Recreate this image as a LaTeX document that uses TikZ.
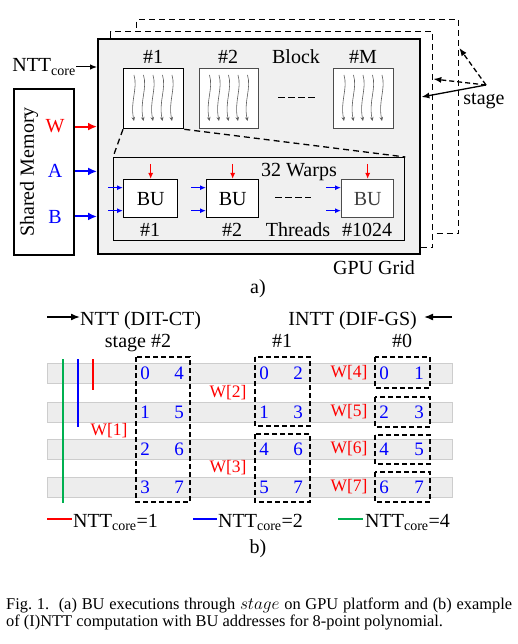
\documentclass[tikz,border=0pt]{standalone}
\usepackage{fontspec}
\setmainfont{Liberation Serif}
\usetikzlibrary{arrows.meta}

\definecolor{gridfill}{RGB}{240,240,240}
\definecolor{rowfill}{RGB}{237,237,237}
\definecolor{rowedge}{RGB}{205,205,205}
\definecolor{coregreen}{RGB}{0,176,80}
\definecolor{threadgray}{RGB}{95,95,95}

\begin{document}
\begin{tikzpicture}[x=1pt, y=-1pt, >=Latex,
  txt/.style={font=\fontsize{20}{22}\selectfont, inner sep=0pt},
  box/.style={draw, inner sep=0pt, anchor=north west},
  copybox/.style={box, fill=white, line width=1.3pt, dash pattern=on 6pt off 4pt},
  blockbox/.style={box, fill=white, line width=1.3pt},
  bubox/.style={box, fill=white, line width=1.3pt, font=\fontsize{20}{22}\selectfont},
  dashline/.style={line width=1.3pt, dash pattern=on 6pt off 4pt},
  fewdash/.style={line width=1pt, dash pattern=on 7pt off 3pt},
  thread/.style={threadgray, line width=0.6pt, -{Stealth[length=4pt, width=3.5pt]}},
  inw/.style={red, line width=1.2pt, -{Latex[length=6pt, width=5pt]}},
  inab/.style={blue, line width=1.2pt, -{Latex[length=6pt, width=5pt]}},
  memarrow/.style={line width=2pt, -{Latex[length=9pt, width=8pt]}},
  headarrow/.style={line width=1.6pt, -{Latex[length=9pt, width=7pt]}},
  grp/.style={line width=1.3pt, dash pattern=on 5pt off 3pt},
  num/.style={blue, font=\fontsize{19}{21}\selectfont, inner sep=0pt},
  tw/.style={red, font=\fontsize{17.5}{20}\selectfont, inner sep=0pt},
  row/.style={fill=rowfill, draw=rowedge, line width=0.8pt},
  corekey/.style={line width=2pt}
]
\useasboundingbox (0,0) rectangle (518,644);

%%% a) BU executions on the GPU
% grids of the next stages
\node[copybox, minimum width=322, minimum height=214] (grid3) at (136,19) {};
\node[copybox, minimum width=322, minimum height=216] (grid2) at (110,31) {};
\node[box, fill=gridfill, line width=2.4pt, minimum width=322, minimum height=215] (grid) at (97,38) {};
\node[txt, anchor=base] (gridlbl) at (374,274) {GPU Grid};

% Shared memory
\node[box, fill=white, line width=2.4pt, minimum width=60, minimum height=166] (shm) at (13,88) {};
\node[txt, rotate=90] (shmtext) at (29,172) {Shared Memory};
\node[txt, red, anchor=base] (w) at (55,133) {W};
\node[txt, blue, anchor=base] (a) at (55,178) {A};
\node[txt, blue, anchor=base] (b) at (55,223) {B};
\draw[memarrow, red] (shm.east |- w) -- (grid.west |- w);
\draw[memarrow, blue] (shm.east |- a) -- (grid.west |- a);
\draw[memarrow, blue] (shm.east |- b) -- (grid.west |- b);

% NTT core
\node[txt, anchor=east] (ntt) at (76,67) {NTT\textsubscript{core}};
\draw[line width=1pt, -{Latex[length=7pt, width=5.5pt]}] (ntt.east) -- (grid.west |- ntt.east);

% Blocks
\node[blockbox, minimum width=60, minimum height=60] (blk1) at (123,68) {};
\node[blockbox, draw=black!70, minimum width=59, minimum height=60] (blk2) at (199,68) {};
\node[blockbox, draw=black!70, minimum width=60, minimum height=60] (blkM) at (333,68) {};
\node[txt, anchor=base] (blk1lbl) at (153,64) {\#1};
\node[txt, anchor=base] (blk2lbl) at (228,64) {\#2};
\node[txt, anchor=base] (blocklbl) at (296,64) {Block};
\node[txt, anchor=base] (blkMlbl) at (363,64) {\#M};
\draw[fewdash] (278,98) -- (315,98);

% threads in each block
\foreach \cx in {153,228.5,363} {
  \foreach \dx in {-19,-9.5,0,9.5,19} {
    \pgfmathsetmacro{\tx}{\cx+\dx}
    \draw[thread] (\tx,75) .. controls (\tx+4,89) and (\tx-4,101) .. (\tx,121);
  }
}

% Zoom into block #1
\node[box, fill=gridfill, line width=1.3pt, minimum width=291, minimum height=83] (warp) at (113,157) {};
\draw[dashline] (blk1.south west) -- (warp.north west);
\draw[dashline] (blk1.south east) -- (warp.north east);

% BUs
\node[bubox, minimum width=54, minimum height=38] (bu1) at (123,179) {BU};
\node[bubox, minimum width=52, minimum height=38] (bu2) at (206,179) {BU};
\node[bubox, draw=black!70, text=black!75, minimum width=52, minimum height=38] (bu3) at (341,179) {BU};
\foreach \u in {bu1,bu2,bu3} {
  \draw[inw] ([yshift=15pt]\u.north) -- (\u.north);
  \draw[inab] ([xshift=-15pt, yshift=11pt]\u.west) -- ([yshift=11pt]\u.west);
  \draw[inab] ([xshift=-15pt, yshift=-12pt]\u.west) -- ([yshift=-12pt]\u.west);
}
\draw[fewdash] (275,198) -- (311,198);
\node[txt, anchor=base] (warplbl) at (299,177) {32 Warps};
\node[txt, anchor=base] (bu1lbl) at (150,236) {\#1};
\node[txt, anchor=base] (bu2lbl) at (232,236) {\#2};
\node[txt, anchor=base] (thrlbl) at (298,236) {Threads};
\node[txt, anchor=base] (bu3lbl) at (367,236) {\#1024};

% stage arrows
\node[txt, anchor=base] (stagelbl) at (484,105) {stage};
\coordinate (stg) at (486,85);
\draw[line width=1.3pt, -{Latex[length=8pt, width=6pt]}] (stg) -- (grid.east |- 0,97);
\draw[grp, -{Latex[length=8pt, width=6pt]}] (stg) -- (grid2.east |- 0,79);
\draw[grp, -{Latex[length=8pt, width=6pt]}] (stg) -- (grid3.east |- 0,48);

\node[txt, anchor=base] (parta) at (258,293) {a)};

%%% b) (I)NTT with BU addresses
\coordinate (nttarrow) at (47,317);
\node[txt, anchor=base west] (ntthead) at (80,325) {NTT (DIT-CT)};
\draw[headarrow] (nttarrow) -- (nttarrow -| ntthead.west);
\coordinate (inttarrow) at (452,317);
\coordinate (inttend) at (424,317);
\node[txt, anchor=base east] (intthead) at (417,325) {INTT (DIF-GS)};
\draw[headarrow] (inttarrow) -- (inttend);

\node[txt, anchor=base] (st2) at (138,347) {stage \#2};
\node[txt, anchor=base] (st1) at (282,347) {\#1};
\node[txt, anchor=base] (st0) at (402,347) {\#0};

% rows
\foreach \y in {373,412,449,487}
  \draw[row] (47,\y-10) rectangle (452,\y+10);

% NTT core spans
\draw[corekey, coregreen] (63,359) -- (63,503);
\draw[corekey, blue] (78,359) -- (78,427);
\draw[corekey, red] (93,359) -- (93,390);

% addresses
\foreach \y/\pa/\pb/\pc/\pd/\pe/\pf in {373/0/4/0/2/0/1, 412/1/5/1/3/2/3, 449/2/6/4/6/4/5, 487/3/7/5/7/6/7} {
  \node[num] (sa\pa) at (145,\y) {\pa};
  \node[num] (sb\pb) at (179,\y) {\pb};
  \node[num] (sc\pc) at (264,\y) {\pc};
  \node[num] (sd\pd) at (298,\y) {\pd};
  \node[num] (se\pe) at (384,\y) {\pe};
  \node[num] (sf\pf) at (419,\y) {\pf};
}

% BU groups
\draw[grp] (136,357) rectangle (190,502);
\draw[grp] (255,357) rectangle (310,426);
\draw[grp] (255,434) rectangle (310,502);
\draw[grp] (375,357) rectangle (430,388);
\draw[grp] (375,397) rectangle (430,427);
\draw[grp] (375,435) rectangle (430,464);
\draw[grp] (375,472) rectangle (430,502);

% twiddles
\node[tw] (w1) at (109,431) {W[1]};
\node[tw] (w2) at (228,393) {W[2]};
\node[tw] (w3) at (228,468) {W[3]};
\foreach \i/\y in {4/373,5/412,6/449,7/487}
  \node[tw] (w\i) at (349,\y) {W[\i]};

% legend
\draw[corekey, red] (47,519) -- (72,519);
\node[txt, anchor=base west] (leg1) at (73,527) {NTT\textsubscript{core}=1};
\draw[corekey, blue] (193,519) -- (217,519);
\node[txt, anchor=base west] (leg2) at (218,527) {NTT\textsubscript{core}=2};
\draw[corekey, coregreen] (338,519) -- (363,519);
\node[txt, anchor=base west] (leg4) at (365,527) {NTT\textsubscript{core}=4};

\node[txt, anchor=base] (partb) at (258,553) {b)};

% caption
\node[anchor=base west, inner sep=0pt, font=\fontsize{16.4}{18}\selectfont] (cap1) at (6,609)
  {\makebox[506pt][s]{Fig.~1.\ \ (a) BU executions through $stage$ on GPU platform and (b) example}};
\node[anchor=base west, inner sep=0pt, font=\fontsize{16.4}{18}\selectfont] (cap2) at (6,626)
  {of (I)NTT computation with BU addresses for 8-point polynomial.};
\end{tikzpicture}
\end{document}
